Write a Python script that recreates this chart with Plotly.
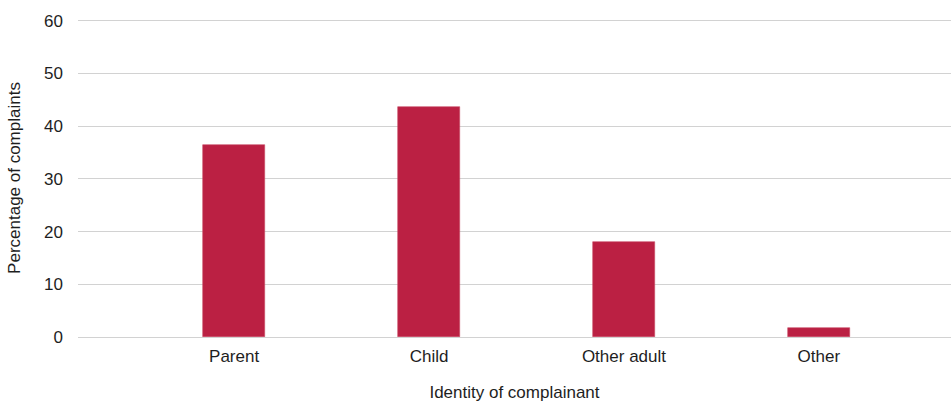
import plotly.graph_objects as go

# Complainant groups and their share of complaints (%)
categories = ["Parent", "Child", "Other adult", "Other"]
percentages = [36.4, 43.6, 18.0, 1.8]
y_ticks = [0, 10, 20, 30, 40, 50, 60]

positions = list(range(len(categories)))

fig = go.Figure(
    go.Bar(
        x=positions,
        y=percentages,
        width=0.317,
        marker=dict(color="#bb2043", line=dict(color="#c94a64", width=0.6)),
        hoverinfo="skip",
    )
)

font_family = "Liberation Sans, Arial, Helvetica, sans-serif"
text_color = "#1e1e1e"

fig.update_layout(
    width=951,
    height=404,
    margin=dict(l=78, r=0, t=19, b=67),
    paper_bgcolor="white",
    plot_bgcolor="white",
    showlegend=False,
    font=dict(family=font_family, size=17, color=text_color),
    bargap=0,
)

fig.update_xaxes(
    range=[-0.801, 3.678],
    tickmode="array",
    tickvals=positions,
    ticktext=categories,
    tickfont=dict(size=17, color=text_color),
    showgrid=False,
    zeroline=False,
    showline=False,
    ticks="",
    ticklabelstandoff=7,
    title=dict(text="Identity of complainant", font=dict(size=17, color=text_color), standoff=21),
    automargin=False,
)

fig.update_yaxes(
    range=[0, 60.35],
    tickmode="array",
    tickvals=y_ticks,
    tickfont=dict(size=17, color=text_color),
    showgrid=True,
    gridcolor="#d2d2d2",
    gridwidth=1.2,
    zeroline=True,
    zerolinecolor="#d2d2d2",
    zerolinewidth=1.2,
    showline=False,
    ticks="",
    ticklabelstandoff=14,
    title=dict(text="Percentage of complaints", font=dict(size=17, color=text_color), standoff=19),
    automargin=False,
)

fig.write_html("out.html")
